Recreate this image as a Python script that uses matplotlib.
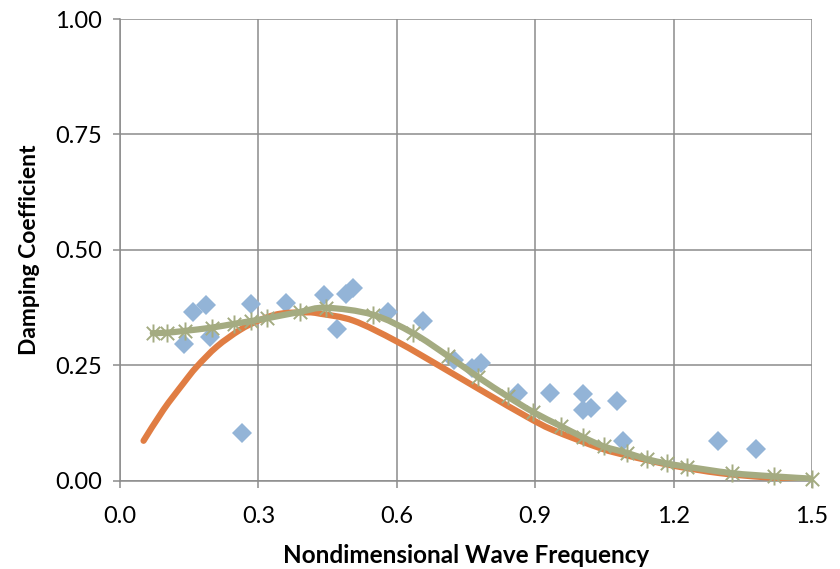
# Damping coefficient vs nondimensional wave frequency:
# measured points plus two smoothed model curves.

import numpy as np
import matplotlib.pyplot as plt
from matplotlib.path import Path
from matplotlib.patches import PathPatch


# Measured damping coefficients
meas_freq = [0.139, 0.159, 0.186, 0.195, 0.264, 0.284, 0.359, 0.442, 0.470, 0.489,
             0.504, 0.580, 0.656, 0.725, 0.762, 0.782, 0.863, 0.932, 1.003, 1.003,
             1.021, 1.077, 1.090, 1.297, 1.379]
meas_damp = [0.297, 0.366, 0.382, 0.312, 0.103, 0.383, 0.385, 0.403, 0.330, 0.405,
             0.417, 0.366, 0.347, 0.262, 0.244, 0.256, 0.191, 0.191, 0.188, 0.154,
             0.157, 0.174, 0.087, 0.087, 0.070]

# First model curve (no markers)
model1_freq = [0.051, 0.094, 0.137, 0.166, 0.210, 0.260, 0.302, 0.347, 0.405, 0.434,
               0.506, 0.600, 0.708, 0.795, 0.882, 0.939, 1.041, 1.100, 1.200, 1.300,
               1.400, 1.500]
model1_damp = [0.087, 0.154, 0.211, 0.247, 0.291, 0.327, 0.348, 0.362, 0.365, 0.362,
               0.347, 0.302, 0.240, 0.189, 0.139, 0.110, 0.071, 0.055, 0.033, 0.017,
               0.008, 0.003]

# Second model curve (with star markers)
model2_freq = [0.071, 0.101, 0.141, 0.199, 0.246, 0.283, 0.318, 0.390, 0.447, 0.548,
               0.635, 0.710, 0.776, 0.840, 0.896, 0.955, 1.003, 1.048, 1.098, 1.143,
               1.185, 1.228, 1.326, 1.417, 1.500]
model2_damp = [0.320, 0.321, 0.325, 0.332, 0.340, 0.346, 0.352, 0.366, 0.375, 0.360,
               0.320, 0.271, 0.225, 0.183, 0.149, 0.119, 0.095, 0.075, 0.061, 0.047,
               0.038, 0.031, 0.017, 0.010, 0.005]

x_ticks = [0.0, 0.3, 0.6, 0.9, 1.2, 1.5]
y_ticks = [0.0, 0.25, 0.5, 0.75, 1.0]

BLUE = '#93b4d7'
ORANGE = '#e07d43'
GREEN = '#a4ab81'
GRID = '#8c8c8c'
FONT = ['Lato', 'DejaVu Sans']


# Build a smooth bezier path through the points (spreadsheet style smoothing)
def smooth_path(xs, ys):
    pts = np.column_stack([xs, ys])
    n = len(pts)
    verts = [pts[0]]
    codes = [Path.MOVETO]
    for i in range(n - 1):
        p0 = pts[i - 1] if i > 0 else pts[i]
        p1 = pts[i]
        p2 = pts[i + 1]
        p3 = pts[i + 2] if i + 2 < n else pts[i + 1]
        c1 = p1 + (p2 - p0) / 6.0
        c2 = p2 - (p3 - p1) / 6.0
        verts += [c1, c2, p2]
        codes += [Path.CURVE4] * 3
    return Path(verts, codes)


# X with a vertical bar through it
star = Path([(-1, -1), (1, 1), (-1, 1), (1, -1), (0, -1.35), (0, 1.35)],
            [Path.MOVETO, Path.LINETO] * 3)

plt.rcParams['font.family'] = FONT

fig = plt.figure(figsize=(8.4, 5.69), dpi=100)
ax = fig.add_axes([0.1429, 0.1547, 0.8238, 0.8119])

ax.plot(meas_freq, meas_damp, linestyle='none', marker='D', markersize=10,
        color=BLUE, markeredgewidth=0, zorder=3)

ax.add_patch(PathPatch(smooth_path(model1_freq, model1_damp), fill=False,
                       edgecolor=ORANGE, linewidth=4.5, capstyle='round', zorder=4))
ax.add_patch(PathPatch(smooth_path(model2_freq, model2_damp), fill=False,
                       edgecolor=GREEN, linewidth=4.5, capstyle='round', zorder=5))
ax.plot(model2_freq, model2_damp, linestyle='none', marker=star, markersize=13,
        markerfacecolor='none', markeredgecolor=GREEN, markeredgewidth=1.4,
        zorder=6, clip_on=False)

ax.set_xlim(0, 1.5)
ax.set_ylim(0, 1.0)
ax.set_xticks(x_ticks)
ax.set_yticks(y_ticks)
ax.set_xticklabels(['%.1f' % t for t in x_ticks])
ax.set_yticklabels(['%.2f' % t for t in y_ticks])
ax.tick_params(axis='both', direction='out', length=5, width=1.1, color=GRID,
               labelsize=17)
ax.tick_params(axis='x', pad=13)
ax.tick_params(axis='y', pad=8)

ax.grid(True, color=GRID, linewidth=1.1)
ax.set_axisbelow(True)
for side in ['top', 'right']:
    ax.spines[side].set_visible(False)
for side in ['left', 'bottom']:
    ax.spines[side].set_color(GRID)
    ax.spines[side].set_linewidth(1.1)

ax.set_xlabel('Nondimensional Wave Frequency', fontsize=17.5, fontweight='bold', labelpad=12)
ax.set_ylabel('Damping Coefficient', fontsize=16.5, fontweight='bold', labelpad=11)

fig.savefig('out.png', dpi=100)
